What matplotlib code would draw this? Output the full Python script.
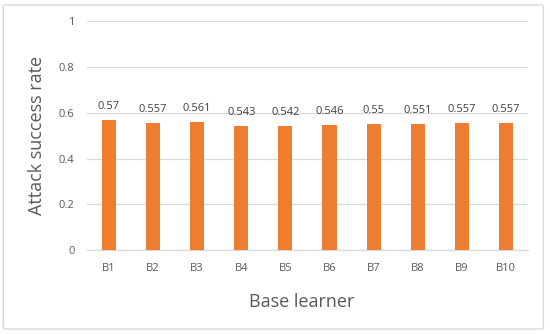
import matplotlib
matplotlib.use("Agg")
import matplotlib.pyplot as plt
from matplotlib.patches import FancyBboxPatch

# ── data ──────────────────────────────────────────────────────────────────────
learners = ["B1", "B2", "B3", "B4", "B5", "B6", "B7", "B8", "B9", "B10"]
success_rate = [0.57, 0.557, 0.561, 0.543, 0.542, 0.546, 0.55, 0.551, 0.557, 0.557]
value_labels = ["0.57", "0.557", "0.561", "0.543", "0.542", "0.546", "0.55", "0.551", "0.557", "0.557"]
y_ticks = [0, 0.2, 0.4, 0.6, 0.8, 1.0]
y_tick_labels = ["0", "0.2", "0.4", "0.6", "0.8", "1"]

BAR_COLOUR = "#ED7D31"
GRID_COLOUR = "#D9D9D9"
TEXT_COLOUR = "#595959"

plt.rcParams["font.family"] = ["Open Sans", "DejaVu Sans"]

fig = plt.figure(figsize=(5.5, 3.34), dpi=100)
fig.patch.set_facecolor("white")

# outer chart border
border = FancyBboxPatch((0.006, 0.015), 0.982, 0.97, boxstyle="round,pad=0,rounding_size=0.005",
                        transform=fig.transFigure, fill=False, edgecolor="#D9D9D9", linewidth=1.0)
fig.patches.append(border)

ax = fig.add_axes([0.158, 0.251, 0.802, 0.686])
x = range(len(learners))
ax.bar(x, success_rate, width=0.32, color=BAR_COLOUR, zorder=3)

for xi, val, lab in zip(x, success_rate, value_labels):
    ax.text(xi, val + 0.035, lab, ha="center", va="bottom", fontsize=8, color="#404040")

ax.set_xlim(-0.5, len(learners) - 0.5)
ax.set_ylim(0, 1)
ax.set_yticks(y_ticks)
ax.set_yticklabels(y_tick_labels)
ax.set_xticks(list(x))
ax.set_xticklabels(learners)
ax.tick_params(axis="both", length=0, labelsize=8, colors=TEXT_COLOUR)
ax.tick_params(axis="x", pad=9)
ax.tick_params(axis="y", pad=9)
ax.grid(axis="y", color=GRID_COLOUR, linewidth=0.9, zorder=0)
for side in ("top", "right", "left"):
    ax.spines[side].set_visible(False)
ax.spines["bottom"].set_color(GRID_COLOUR)
ax.spines["bottom"].set_linewidth(0.9)

fig.text(302 / 550, 1 - 302 / 334, "Base learner", ha="center", va="center", fontsize=13, color=TEXT_COLOUR)
fig.text(37 / 550, 1 - 135 / 334, "Attack success rate", ha="center", va="center", rotation=90,
         fontsize=13, color=TEXT_COLOUR)

fig.savefig("out.png", dpi=100)
plt.close(fig)
